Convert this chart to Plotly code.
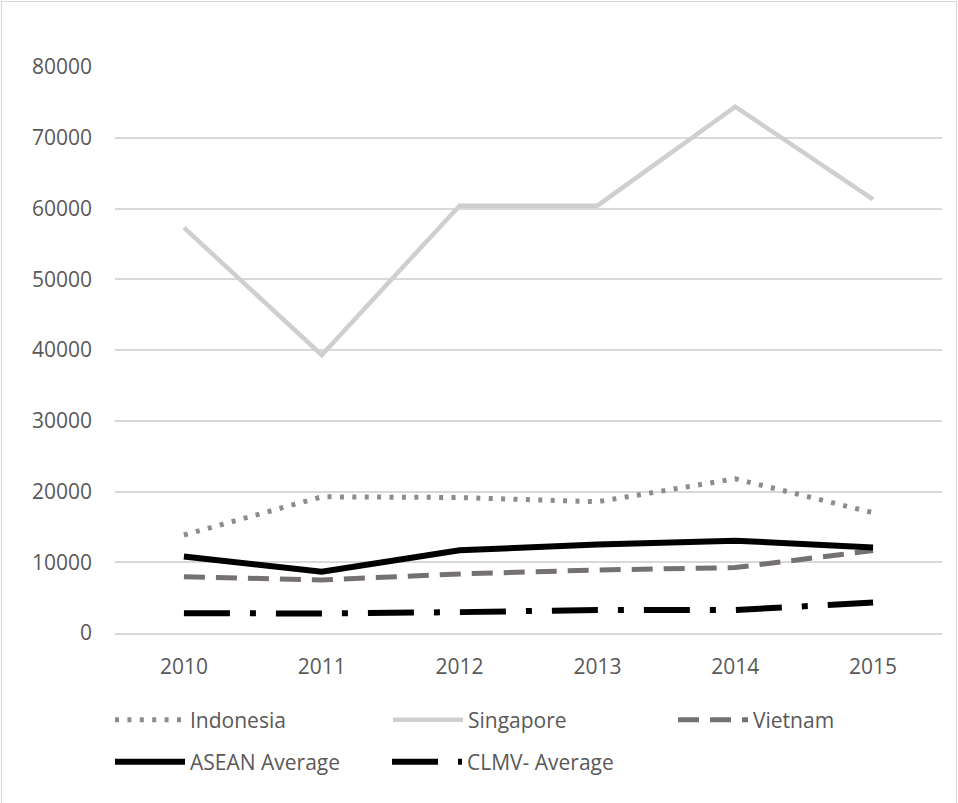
import plotly.graph_objects as go

years = ["2010", "2011", "2012", "2013", "2014", "2015"]
indonesia = [13850, 19250, 19150, 18550, 21800, 17000]
singapore = [57300, 39300, 60400, 60400, 74400, 61300]
vietnam = [7950, 7500, 8350, 8900, 9250, 11650]
asean_avg = [10800, 8650, 11700, 12500, 13050, 12100]
clmv_avg = [2800, 2750, 2950, 3250, 3250, 4300]
y_ticks = [0, 10000, 20000, 30000, 40000, 50000, 60000, 70000, 80000]

W, H = 958, 803
L, R, T, B = 115, 16, 67, 170
PW, PH = W - L - R, H - T - B

def px_x(p):
    return (p - L) / PW

def px_y(p):
    return (H - B - p) / PH

FONT = "Open Sans"
TXT = "#595959"

series = [
    ("Indonesia", indonesia, "#8c8c8c", 5, "4px,8.4px", "legend", 110, 720),
    ("Singapore", singapore, "#d0cece", 4.5, "solid", "legend2", 388, 720),
    ("Vietnam", vietnam, "#767171", 5, "21px,11px", "legend3", 673, 720),
    ("ASEAN Average", asean_avg, "#000000", 6, "solid", "legend4", 110, 762),
    ("CLMV- Average", clmv_avg, "#000000", 6, "46px,20px,6px,20px", "legend5", 387, 762),
]

fig = go.Figure()
legend_layouts = {}
for name, vals, color, width, dash, lg, lx, ly in series:
    fig.add_trace(go.Scatter(
        x=years, y=vals, name=name, mode="lines",
        line=dict(color=color, width=width, dash=dash),
        legend=lg, showlegend=True,
    ))
    legend_layouts[lg] = dict(
        x=px_x(lx), y=px_y(ly), xanchor="left", yanchor="middle",
        orientation="h", itemwidth=70, bgcolor="rgba(0,0,0,0)",
        font=dict(family=FONT, size=21, color=TXT),
    )

fig.update_layout(
    width=W, height=H,
    margin=dict(l=L, r=R, t=T, b=B),
    paper_bgcolor="white", plot_bgcolor="white",
    showlegend=True,
    font=dict(family=FONT, size=21, color=TXT),
    xaxis=dict(
        type="category", range=[-0.5, 5.5], showgrid=False,
        showline=True, linecolor="#d9d9d9", linewidth=1.5,
        ticks="", ticklabelstandoff=14,
        tickfont=dict(family=FONT, size=21, color=TXT),
    ),
    yaxis=dict(
        range=[0, 80000], tickvals=y_ticks, ticktext=[str(v) for v in y_ticks],
        showgrid=True, gridcolor="#d9d9d9", gridwidth=1.5,
        zeroline=False, showline=False, ticks="", ticklabelstandoff=22,
        tickfont=dict(family=FONT, size=21, color=TXT),
    ),
    shapes=[dict(
        type="rect", xref="paper", yref="paper",
        x0=px_x(1.5), x1=px_x(956.5), y0=px_y(H + 5), y1=px_y(1.5),
        line=dict(color="#d9d9d9", width=1.2), fillcolor="rgba(0,0,0,0)",
        layer="below",
    )],
    **legend_layouts,
)

fig.write_html("out.html")
